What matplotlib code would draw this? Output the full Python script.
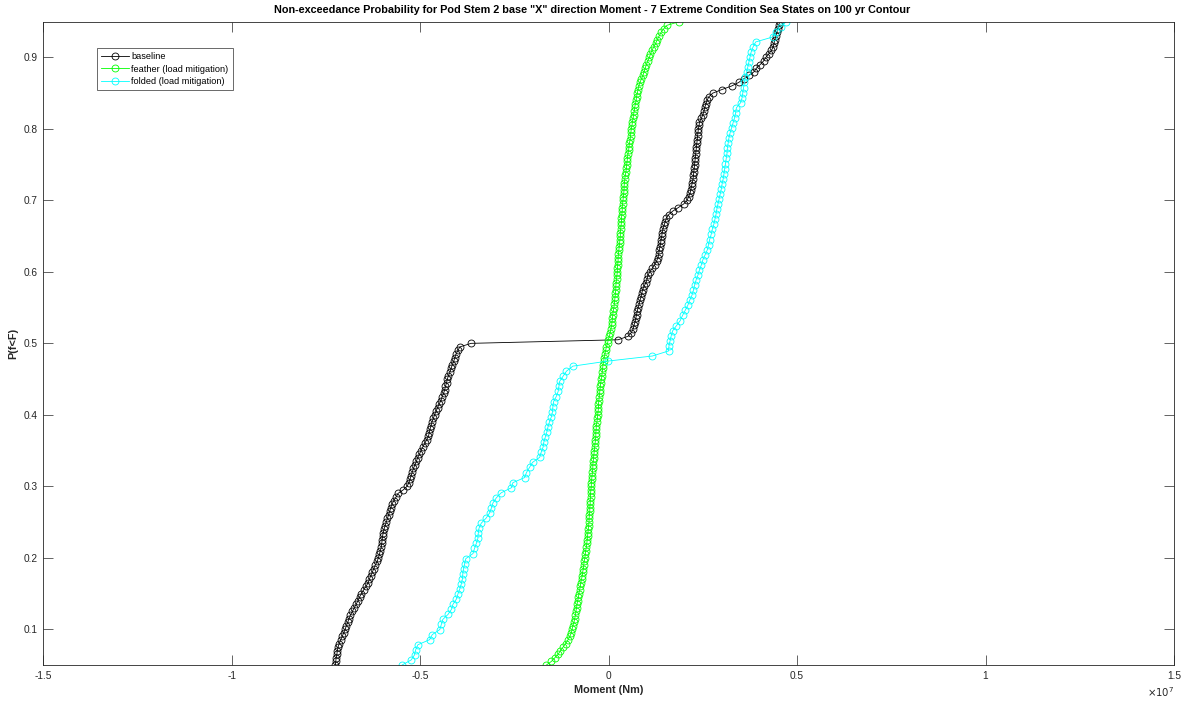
import numpy as np
import matplotlib
matplotlib.use("Agg")
import matplotlib.pyplot as plt

# ---------------- data (moment in units of 1e7 Nm) ----------------
baseline_moment_1e7 = [
    -0.725, -0.724, -0.723, -0.721, -0.720, -0.718, -0.715, -0.711, -0.707, -0.703,
    -0.699, -0.696, -0.692, -0.689, -0.685, -0.680, -0.675, -0.670, -0.665, -0.661,
    -0.656, -0.650, -0.644, -0.638, -0.635, -0.631, -0.627, -0.623, -0.619, -0.614,
    -0.611, -0.608, -0.606, -0.603, -0.602, -0.601, -0.600, -0.598, -0.596, -0.593,
    -0.590, -0.587, -0.584, -0.581, -0.578, -0.575, -0.570, -0.564, -0.559, -0.545,
    -0.535, -0.530, -0.527, -0.524, -0.521, -0.518, -0.514, -0.510, -0.507, -0.502,
    -0.498, -0.493, -0.488, -0.483, -0.478, -0.476, -0.474, -0.471, -0.469, -0.465,
    -0.462, -0.458, -0.454, -0.450, -0.445, -0.442, -0.438, -0.435, -0.433, -0.430,
    -0.428, -0.425, -0.421, -0.418, -0.415, -0.411, -0.408, -0.405, -0.400, -0.395,
    -0.365, 0.025, 0.052, 0.060, 0.065, 0.067, 0.070, 0.072, 0.074, 0.076,
    0.078, 0.081, 0.083, 0.086, 0.088, 0.090, 0.094, 0.099, 0.102, 0.104,
    0.109, 0.116, 0.122, 0.127, 0.131, 0.133, 0.134, 0.136, 0.138, 0.139,
    0.141, 0.142, 0.144, 0.147, 0.150, 0.153, 0.159, 0.170, 0.185, 0.199,
    0.208, 0.212, 0.216, 0.218, 0.220, 0.222, 0.224, 0.225, 0.226, 0.227,
    0.228, 0.229, 0.230, 0.231, 0.232, 0.233, 0.234, 0.235, 0.236, 0.237,
    0.238, 0.240, 0.241, 0.246, 0.250, 0.253, 0.255, 0.258, 0.261, 0.266,
    0.276, 0.300, 0.326, 0.345, 0.358, 0.372, 0.386, 0.392, 0.402, 0.411,
    0.417, 0.425, 0.432, 0.437, 0.439, 0.441, 0.444, 0.446, 0.449, 0.451,
    0.454,
]

feather_moment_1e7 = [
    -0.165, -0.152, -0.143, -0.134, -0.128, -0.121, -0.114, -0.108, -0.103, -0.099,
    -0.097, -0.095, -0.092, -0.090, -0.088, -0.087, -0.085, -0.084, -0.082, -0.080,
    -0.079, -0.077, -0.075, -0.074, -0.072, -0.070, -0.069, -0.067, -0.066, -0.065,
    -0.063, -0.062, -0.061, -0.059, -0.058, -0.057, -0.056, -0.055, -0.054, -0.053,
    -0.052, -0.052, -0.051, -0.050, -0.050, -0.049, -0.049, -0.048, -0.048, -0.047,
    -0.046, -0.046, -0.045, -0.044, -0.043, -0.042, -0.042, -0.041, -0.040, -0.039,
    -0.038, -0.037, -0.036, -0.035, -0.034, -0.034, -0.033, -0.033, -0.031, -0.030,
    -0.029, -0.028, -0.027, -0.027, -0.026, -0.025, -0.024, -0.023, -0.022, -0.021,
    -0.019, -0.018, -0.017, -0.016, -0.015, -0.013, -0.012, -0.010, -0.008, -0.006,
    -0.003, -0.001, 0.002, 0.004, 0.006, 0.008, 0.009, 0.010, 0.011, 0.012,
    0.014, 0.015, 0.016, 0.017, 0.018, 0.019, 0.019, 0.020, 0.021, 0.022,
    0.023, 0.023, 0.024, 0.025, 0.025, 0.026, 0.027, 0.028, 0.029, 0.030,
    0.031, 0.031, 0.032, 0.033, 0.034, 0.034, 0.035, 0.036, 0.036, 0.037,
    0.038, 0.039, 0.040, 0.041, 0.041, 0.042, 0.043, 0.044, 0.046, 0.047,
    0.048, 0.049, 0.050, 0.051, 0.053, 0.054, 0.055, 0.057, 0.058, 0.059,
    0.060, 0.062, 0.063, 0.065, 0.066, 0.068, 0.069, 0.071, 0.073, 0.074,
    0.076, 0.078, 0.080, 0.083, 0.087, 0.091, 0.094, 0.097, 0.100, 0.104,
    0.108, 0.111, 0.115, 0.120, 0.125, 0.129, 0.134, 0.139, 0.146, 0.155,
    0.187,
]

folded_moment_1e7 = [
    -0.548, -0.524, -0.515, -0.512, -0.506, -0.475, -0.468, -0.448, -0.444, -0.440,
    -0.426, -0.417, -0.413, -0.404, -0.400, -0.395, -0.391, -0.388, -0.387, -0.385,
    -0.382, -0.379, -0.360, -0.356, -0.351, -0.347, -0.346, -0.344, -0.338, -0.325,
    -0.316, -0.311, -0.307, -0.298, -0.285, -0.258, -0.254, -0.223, -0.218, -0.210,
    -0.202, -0.183, -0.179, -0.174, -0.172, -0.168, -0.164, -0.161, -0.157, -0.152,
    -0.149, -0.148, -0.146, -0.139, -0.134, -0.132, -0.130, -0.121, -0.112, -0.095,
    -0.002, 0.116, 0.159, 0.160, 0.163, 0.166, 0.170, 0.180, 0.190, 0.196,
    0.203, 0.210, 0.215, 0.221, 0.225, 0.228, 0.232, 0.237, 0.241, 0.246,
    0.250, 0.256, 0.262, 0.265, 0.268, 0.272, 0.275, 0.279, 0.282, 0.285,
    0.287, 0.290, 0.293, 0.296, 0.299, 0.301, 0.304, 0.306, 0.308, 0.310,
    0.312, 0.314, 0.315, 0.317, 0.319, 0.322, 0.326, 0.330, 0.334, 0.337,
    0.339, 0.350, 0.354, 0.356, 0.358, 0.360, 0.363, 0.366, 0.369, 0.372,
    0.375, 0.378, 0.383, 0.390, 0.436, 0.444, 0.457, 0.471,
]

# non-exceedance probability levels (ranked, 0.05 .. 0.95)
p_start, p_end = 0.05, 0.95
baseline_p = np.linspace(p_start, p_end, len(baseline_moment_1e7))
feather_p = np.linspace(p_start, p_end, len(feather_moment_1e7))
folded_p = np.linspace(p_start, p_end, len(folded_moment_1e7))

series_labels = ["baseline", "feather (load mitigation)", "folded (load mitigation)"]
series_colors = ["#000000", "#00ff00", "#00ffff"]

x_ticks_1e7 = [-1.5, -1, -0.5, 0, 0.5, 1, 1.5]
x_tick_labels = ["-1.5", "-1", "-0.5", "0", "0.5", "1", "1.5"]
y_ticks = [0.1, 0.2, 0.3, 0.4, 0.5, 0.6, 0.7, 0.8, 0.9]
y_tick_labels = ["0.1", "0.2", "0.3", "0.4", "0.5", "0.6", "0.7", "0.8", "0.9"]

title_text = ('Non-exceedance Probability for Pod Stem 2 base "X" direction Moment - '
              '7 Extreme Condition Sea States on 100 yr Contour')

# ---------------- figure ----------------
plt.rcParams['font.family'] = ['Liberation Sans', 'DejaVu Sans']
W, H, DPI = 1182, 701, 100
fig = plt.figure(figsize=(W / DPI, H / DPI), dpi=DPI, facecolor='white')
ax = fig.add_axes([43.3 / W, 36 / H, 1130.7 / W, 643.3 / H])

axis_gray = '#262626'
for xs, ps, lab, col in zip(
        [baseline_moment_1e7, feather_moment_1e7, folded_moment_1e7],
        [baseline_p, feather_p, folded_p], series_labels, series_colors):
    ax.plot(np.array(xs) * 1e7, ps, '-', color=col, lw=0.6, marker='o',
            markersize=5.0, markerfacecolor='none', markeredgecolor=col,
            markeredgewidth=0.6, label=lab)

ax.set_xlim(-1.5e7, 1.5e7)
ax.set_ylim(p_start, p_end)
ax.set_xticks(np.array(x_ticks_1e7) * 1e7)
ax.set_xticklabels(x_tick_labels)
ax.set_yticks(y_ticks)
ax.set_yticklabels(y_tick_labels)

ax.tick_params(axis='both', which='major', direction='in', length=7.2, width=0.5,
               color=axis_gray, labelcolor=axis_gray, labelsize=7.3,
               top=True, right=True, pad=4)
for s in ax.spines.values():
    s.set_linewidth(0.6)
    s.set_color(axis_gray)

ax.set_title(title_text, fontsize=7.8, fontweight='bold', color='black', pad=6,
             x=0.4855)
ax.set_xlabel('Moment (Nm)', fontsize=7.8, fontweight='bold', color=axis_gray, labelpad=3)
ax.set_ylabel('P(f<F)', fontsize=7.8, fontweight='bold', color=axis_gray, labelpad=4)

ax.text(1.0, -0.032, r'$\times10^{7}$', transform=ax.transAxes, ha='right', va='top',
        fontsize=7.3, color=axis_gray)

leg = ax.legend(loc='upper left', bbox_to_anchor=(0.0475, 0.959), fontsize=6.6,
                frameon=True, fancybox=False, shadow=False, borderpad=0.45,
                handlelength=3.0, handletextpad=0.3, labelspacing=0.38,
                borderaxespad=0)
leg.get_frame().set_edgecolor(axis_gray)
leg.get_frame().set_linewidth(0.6)

fig.savefig('out.png', dpi=DPI, facecolor='white')
